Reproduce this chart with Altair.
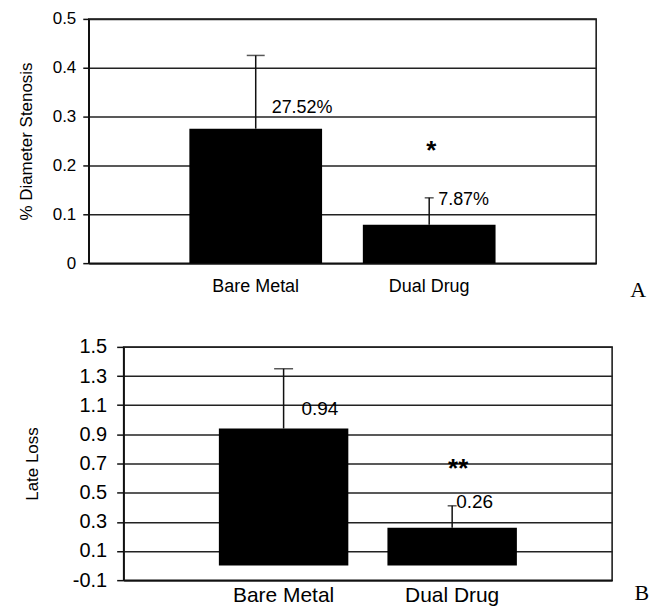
import altair as alt
import pandas as pd

categories = ["Bare Metal", "Dual Drug"]

stenosis = [0.2752, 0.0787]
stenosis_err = [0.15, 0.055]
stenosis_labels = ["27.52%", "7.87%"]
stenosis_ticks = [0, 0.1, 0.2, 0.3, 0.4, 0.5]

late_loss = [0.94, 0.26]
late_loss_err = [0.41, 0.15]
late_loss_labels = ["0.94", "0.26"]
late_loss_ticks = [-0.1, 0.1, 0.3, 0.5, 0.7, 0.9, 1.1, 1.3, 1.5]

sig_marks = ["*", "**"]
sig_levels = [0.23, 0.66]

FONT = "Liberation Sans"
INK = "#111111"


def panel(values, errs, labels, ticks, domain, ytitle, sig, sig_y, letter, cfg):
    df = pd.DataFrame({
        "cat": categories,
        "v": values,
        "hi": [v + e for v, e in zip(values, errs)],
        "lab": labels,
    })
    sig_df = pd.DataFrame({"cat": [categories[1]], "s": [sig_y], "t": [sig]})

    xscale = alt.Scale(domain=categories, paddingInner=cfg["pi"], paddingOuter=cfg["po"])
    xaxis = alt.Axis(
        title=None, labelAngle=0, ticks=False, tickSize=0, grid=False,
        domainColor=INK, domainWidth=1.5,
        labelFont=FONT, labelFontSize=cfg["xfs"], labelColor="black",
        labelPadding=cfg["xlp"],
    )
    yscale = alt.Scale(domain=domain, nice=False, zero=False)
    yaxis = alt.Axis(
        values=ticks, title=ytitle,
        labelExpr="datum.value == 0 ? '0' : (datum.value < 0 ? '-' : '') + format(abs(datum.value), '.1f')",
        labelFont=FONT, labelFontSize=cfg["yfs"], labelColor="black",
        labelPadding=cfg["ylp"], tickSize=cfg["yts"], tickColor=INK, tickWidth=1.5,
        domainColor=INK, domainWidth=1.5,
        grid=True, gridColor="#222222", gridWidth=1.5,
        titleFont=FONT, titleFontSize=cfg["tfs"], titleFontWeight="normal",
        titleColor="black", titlePadding=cfg["tp"],
    )

    def X():
        return alt.X("cat:N", scale=xscale, axis=xaxis)

    def Y(field):
        return alt.Y(field, type="quantitative", scale=yscale, axis=yaxis)

    base = alt.Chart(df)
    bars = base.mark_bar(color="black").encode(x=X(), y=Y("v"), y2=alt.datum(0))
    rule = base.mark_rule(color=INK, strokeWidth=1.5).encode(x=X(), y=Y("v"), y2="hi:Q")
    layers = [bars, rule]
    for i, c in enumerate(categories):
        cap = base.transform_filter(alt.datum.cat == c).mark_tick(
            color=INK, thickness=1.5, size=cfg["caps"][i]
        ).encode(x=X(), y=Y("hi"))
        txt = base.transform_filter(alt.datum.cat == c).mark_text(
            align="left", baseline="middle", font=FONT, fontSize=cfg["lfs"],
            color="black", dx=cfg["ldx"][i], dy=cfg["ldy"][i],
        ).encode(x=X(), y=Y("v"), text="lab:N")
        layers += [cap, txt]
    star = alt.Chart(sig_df).mark_text(
        align="center", baseline="middle", font=FONT, fontSize=cfg["sfs"],
        fontWeight="bold", color="black", dx=cfg["sdx"], dy=0,
    ).encode(x=X(), y=Y("s"), text="t:N")
    layers.append(star)

    return alt.layer(*layers).properties(
        width=cfg["w"], height=cfg["h"],
        title=alt.TitleParams(
            text=letter, orient="bottom", anchor="end", font="Liberation Serif",
            fontSize=cfg["Lfs"], fontWeight="normal", color="black",
            offset=0, dx=cfg["Ldx"], dy=cfg["Ldy"],
        ),
    )


def spacer(w):
    d = pd.DataFrame({"z": [0]})
    return alt.Chart(d).mark_point(opacity=0).encode(
        x=alt.X("z:Q", axis=None), y=alt.Y("z:Q", axis=None)
    ).properties(width=w, height=1, view=alt.ViewBackground(stroke="transparent"))


top = panel(
    stenosis, stenosis_err, stenosis_labels, stenosis_ticks, [0, 0.5],
    "% Diameter Stenosis", sig_marks[0], sig_levels[0], "A",
    dict(pi=0.235, po=0.58, xfs=18, xlp=14, yfs=17, ylp=7, yts=6, tfs=17, tp=17,
         caps=[18, 9], lfs=18, ldx=[16, 9], ldy=[-21, -25], sfs=26, sdx=2,
         w=509, h=245, Lfs=22, Ldx=50, Ldy=-15),
)
bottom = panel(
    late_loss, late_loss_err, late_loss_labels, late_loss_ticks, [-0.1, 1.5],
    "Late Loss", sig_marks[1], sig_levels[1], "B",
    dict(pi=0.232, po=0.565, xfs=21, xlp=4, yfs=20, ylp=10, yts=7, tfs=17, tp=31,
         caps=[19, 9], lfs=19, ldx=[18, 4], ldy=[-20, -26], sfs=26, sdx=6,
         w=490, h=234, Lfs=22, Ldx=37, Ldy=-22),
)

row1 = alt.hconcat(spacer(1), top, spacing=0)
row2 = alt.hconcat(spacer(9), bottom, spacing=0)

chart = alt.vconcat(row1, row2, spacing=34).properties(
    padding={"top": 0, "left": 1, "right": 0, "bottom": 0},
    background="white",
).configure_view(stroke=INK, strokeWidth=1.5)

chart.save("out.html", embed_options={"renderer": "svg", "actions": False})
